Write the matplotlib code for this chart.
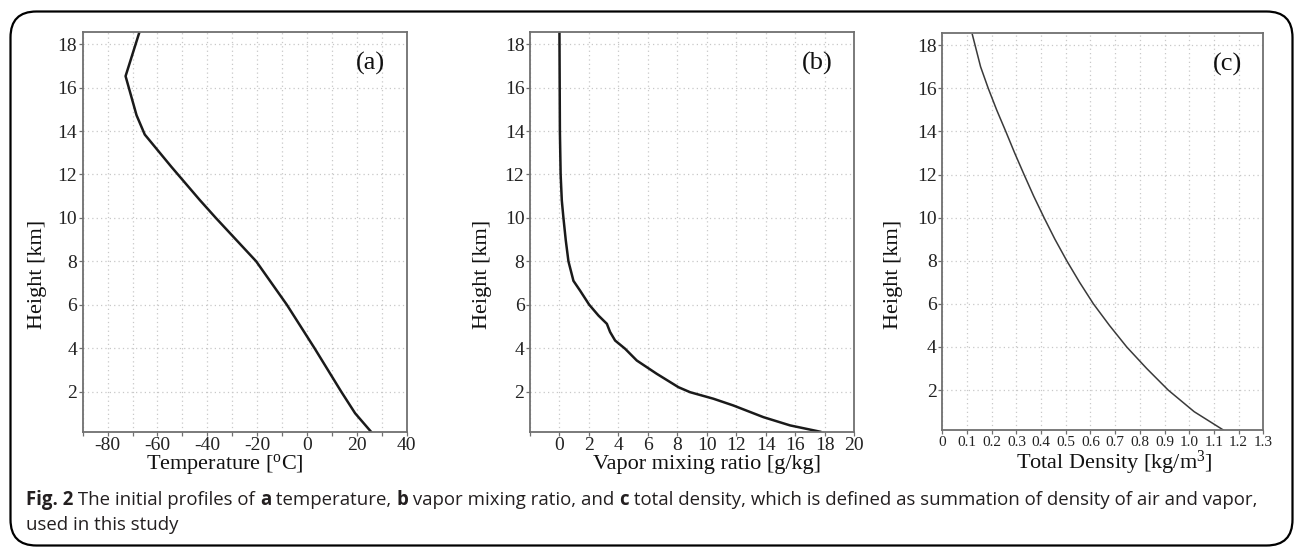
import matplotlib
matplotlib.use("Agg")
import matplotlib.pyplot as plt
from matplotlib.patches import FancyBboxPatch
from matplotlib.ticker import FixedLocator, FixedFormatter

# ---------------- data ----------------
height_temp = [18.5, 16.53, 14.73, 13.84, 12.35, 10.82, 10.0, 8.0, 6.0, 4.0, 2.0, 1.0, 0.16]
temperature = [-67.4, -72.8, -68.4, -65.1, -54.4, -43.0, -36.6, -20.4, -8.1, 3.0, 13.7, 19.3, 25.6]

height_vapor = [18.5, 14.0, 12.0, 10.8, 10.0, 8.96, 8.0, 7.1, 6.65, 6.0, 5.5, 5.12, 4.74,
                4.35, 3.97, 3.43, 2.82, 2.2, 1.97, 1.67, 1.36, 0.82, 0.44, 0.15]
vapor = [0.0, 0.03, 0.08, 0.16, 0.27, 0.43, 0.61, 0.95, 1.4, 2.02, 2.65, 3.22, 3.44,
         3.78, 4.46, 5.25, 6.6, 8.08, 8.87, 10.45, 11.8, 13.85, 15.66, 17.7]

height_dens = [18.5, 17, 16, 15, 14, 13, 12, 11, 10, 9, 8, 7, 6, 5, 4, 3, 2, 1, 0.15]
density = [0.1215, 0.155, 0.186, 0.22, 0.257, 0.293, 0.331, 0.37, 0.412, 0.456, 0.504,
           0.556, 0.612, 0.677, 0.747, 0.828, 0.915, 1.02, 1.138]

y_ticks = [2, 4, 6, 8, 10, 12, 14, 16, 18]
temp_ticks = [-80, -60, -40, -20, 0, 20, 40]
vapor_ticks = [0, 2, 4, 6, 8, 10, 12, 14, 16, 18, 20]
dens_ticks = [0, 0.1, 0.2, 0.3, 0.4, 0.5, 0.6, 0.7, 0.8, 0.9, 1.0, 1.1, 1.2, 1.3]
dens_labels = ["0", "0.1", "0.2", "0.3", "0.4", "0.5", "0.6", "0.7", "0.8", "0.9",
               "1.0", "1.1", "1.2", "1.3"]

W, H = 1295, 548
plt.rcParams['mathtext.fontset'] = 'custom'
plt.rcParams['mathtext.rm'] = 'Liberation Serif'
plt.rcParams['mathtext.it'] = 'Liberation Serif:italic'
plt.rcParams['axes.unicode_minus'] = False
SERIF = 'Liberation Serif'

fig = plt.figure(figsize=(W / 100, H / 100), dpi=100)

# rounded border
fig.patches.append(FancyBboxPatch((10.5 / W, 2.5 / H), (1282 / W), (534 / H),
                                  boxstyle="round,pad=0,rounding_size=0.02",
                                  transform=fig.transFigure, fill=False,
                                  edgecolor='black', linewidth=1.6,
                                  mutation_aspect=W / H))


def make_ax(left, right, top, bottom):
    return fig.add_axes([left / W, 1 - bottom / H, (right - left) / W, (bottom - top) / H])


def style(ax, xlim, xgrid, label, label_x, panel, ylabel_x, xsize=14):
    ax.set_ylim(0.15, 18.55)
    ax.set_xlim(*xlim)
    ax.yaxis.set_major_locator(FixedLocator(y_ticks))
    ax.xaxis.set_minor_locator(FixedLocator(xgrid))
    ax.grid(True, which='major', color='#c8c8c8', linestyle=(0, (1, 2.5)), linewidth=0.9)
    ax.grid(True, which='minor', axis='x', color='#c8c8c8', linestyle=(0, (1, 2.5)), linewidth=0.9)
    for s in ax.spines.values():
        s.set_color('#707070')
        s.set_linewidth(1.3)
    ax.tick_params(which='both', direction='out', length=3, width=0.9, color='#707070',
                   labelsize=14, pad=1)
    ax.tick_params(axis='x', labelsize=xsize)
    for t in ax.get_xticklabels() + ax.get_yticklabels():
        t.set_fontfamily(SERIF)
        t.set_color('#222222')
    fig.text(label_x / W, 1 - 469 / H, label, fontsize=16, family=SERIF,
             ha='center', va='baseline', color='#111111')
    ax.text(0.887, 0.922, panel, transform=ax.transAxes, fontsize=19, family=SERIF,
            ha='center', va='center', color='#111111')
    ax.set_ylabel('Height [km]', fontsize=16, family=SERIF, color='#111111')
    ax.yaxis.set_label_coords(ylabel_x / W, 0.5, transform=fig.transFigure)
    ax.set_axisbelow(True)


# (a)
ax1 = make_ax(82.7, 406.7, 32.3, 431.7)
ax1.plot(temperature, height_temp, color='#1a1a1a', linewidth=1.8)
ax1.xaxis.set_major_locator(FixedLocator(temp_ticks))
style(ax1, (-90, 40), list(range(-90, 41, 10)), 'Temperature [$^{\\mathrm{o}}$C]', 224.5,
      '(a)', 47)

# (b)
ax2 = make_ax(530, 854, 32.3, 431.7)
ax2.plot(vapor, height_vapor, color='#1a1a1a', linewidth=1.8)
ax2.xaxis.set_major_locator(FixedLocator(vapor_ticks))
style(ax2, (-2, 20), list(range(-2, 21, 2)), 'Vapor mixing ratio [g/kg]', 707,
      '(b)', 492)

# (c)
ax3 = make_ax(942.3, 1263.3, 33.3, 430)
ax3.plot(density, height_dens, color='#3a3a3a', linewidth=1.1)
ax3.xaxis.set_major_locator(FixedLocator(dens_ticks))
ax3.xaxis.set_major_formatter(FixedFormatter(dens_labels))
style(ax3, (0, 1.3), dens_ticks, 'Total Density [kg/m$^3$]', 1114, '(c)', 903, xsize=11)

# caption with bold pieces
CAP = 'Open Sans'
renderer = fig.canvas.get_renderer()


def draw_line(pieces, x0, y0, size):
    x = x0
    for txt, bold in pieces:
        t = fig.text(x / W, 1 - y0 / H, txt, fontsize=size, family=CAP,
                     fontweight='bold' if bold else 'normal', color='#231f20',
                     ha='left', va='baseline')
        bb = t.get_window_extent(renderer=renderer)
        x += bb.width


cap_size = 13.4
draw_line([("Fig. 2", True), (" The initial profiles of ", False), ("a", True),
           (" temperature, ", False), ("b", True), (" vapor mixing ratio, and ", False),
           ("c", True),
           (" total density, which is defined as summation of density of air and vapor,", False)],
          26, 505, cap_size)
draw_line([("used in this study", False)], 26, 530, cap_size)

fig.savefig("out.png", dpi=100)
